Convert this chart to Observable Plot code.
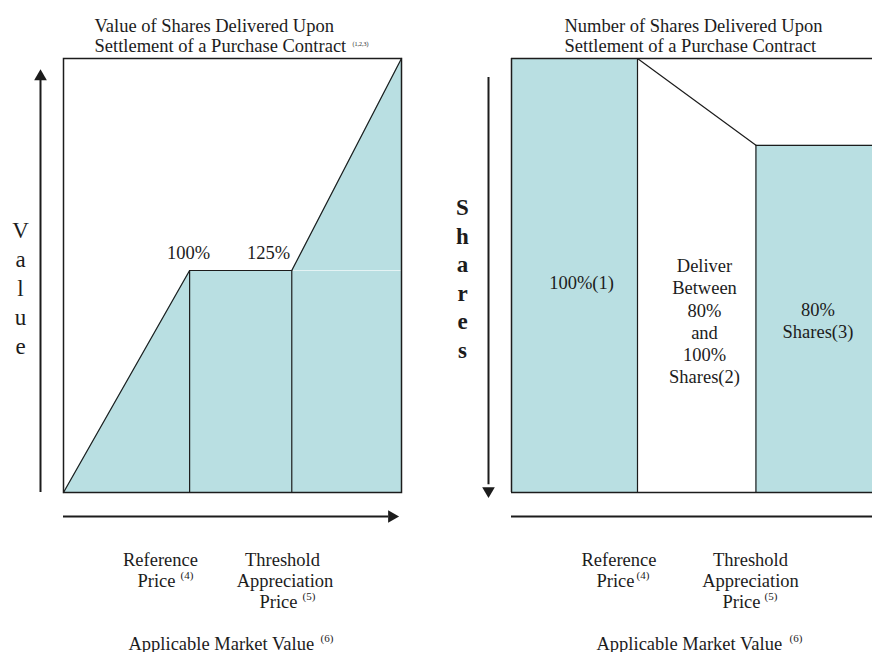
<!DOCTYPE html>
<html>
<head>
<meta charset="utf-8">
<script src="https://cdn.jsdelivr.net/npm/d3@7"></script>
<script src="https://cdn.jsdelivr.net/npm/@observablehq/plot@0.6"></script>
<style>
  html, body { margin: 0; padding: 0; background: #fff; }
  #page { position: relative; width: 872px; height: 652px; overflow: hidden; background: #fff; }
  #left, #right { position: absolute; top: 0; }
  #left { left: 0; width: 436px; }
  #right { left: 436px; width: 463px; }
  #page svg { max-width: none !important; display: block; }
</style>
</head>
<body>
<div id="page"><div id="left"></div><div id="right"></div></div>
<script>
// ---- Data (schematic; Reference Price = 100 on the market-value axis) ----
// Left panel: value of shares delivered vs. applicable market value
const valueMarketX = [0, 100, 181, 268];      // start, reference price, threshold appreciation price, end
const valuePct     = [0, 100, 100, 195.5];    // value of shares delivered (% of reference)
// Right panel: number of shares delivered vs. applicable market value
const sharesMarketX = [0, 100, 194, 300];
const sharesPct     = [100, 100, 80, 80];     // shares delivered (% of maximum)
// Text
const leftTitle  = ["Value of Shares Delivered Upon", "Settlement of a Purchase Contract"];
const rightTitle = ["Number of Shares Delivered Upon", "Settlement of a Purchase Contract"];
const leftPctLabels = ["100%", "125%"];
const regionLabels = ["100%(1)", "Deliver\nBetween\n80%\nand\n100%\nShares(2)", "80%\nShares(3)"];

const TEAL = "#b9dfe2";
const INK = "#1c1c1c";
const FONT = "Liberation Serif, Times New Roman, serif";

const valueCurve = valueMarketX.map((x, i) => ({x, v: valuePct[i]}));
const sharesCurve = sharesMarketX.map((x, i) => ({x, s: sharesPct[i]}));
const sharesBars = [
  {x1: sharesMarketX[0], x2: sharesMarketX[1], s: sharesPct[0]},
  {x1: sharesMarketX[2], x2: sharesMarketX[3], s: sharesPct[3]}
];

// text helper placed against the plot frame (baseline-based)
function txt(ml, mt, s, px, base, fs, anchor = "start", extra = {}) {
  return Plot.text([s], {
    frameAnchor: "top-left", dx: px - ml, dy: base - mt - 0.71 * fs,
    lineAnchor: "top", textAnchor: anchor, fontSize: fs, fill: INK,
    fontFamily: FONT, ...extra
  });
}

// ---------------- Left panel ----------------
{
  const ML = 63, MT = 58;
  const T = (...a) => txt(ML, MT, ...a);
  const chart = Plot.plot({
    width: 436, height: 652,
    marginLeft: ML, marginRight: 35, marginTop: MT, marginBottom: 160,
    x: {domain: [0, valueMarketX[3]], axis: null},
    y: {domain: [0, valuePct[3]], axis: null},
    style: {fontFamily: FONT, background: "transparent", overflow: "visible", maxWidth: "none"},
    marks: [
      Plot.areaY(valueCurve, {x: "x", y: "v", fill: TEAL}),
      Plot.ruleY([valuePct[1]], {x1: valueMarketX[2], x2: valueMarketX[3], stroke: "#e4f3f4", strokeWidth: 1}),
      Plot.ruleX([valueMarketX[1], valueMarketX[2]], {y1: 0, y2: valuePct[1], stroke: INK, strokeWidth: 1.2}),
      Plot.line(valueCurve, {x: "x", y: "v", stroke: INK, strokeWidth: 1.2}),
      Plot.frame({stroke: INK, strokeWidth: 1.5}),
      // axis arrows
      Plot.ruleX([0], {dx: -23, y1: 0, y2: 186, stroke: INK, strokeWidth: 2}),
      Plot.dot([0], {x: d => d, y: 187.4, dx: -23, symbol: "triangle", r: 4.7, fill: INK, stroke: null}),
      Plot.ruleY([-10.81], {x1: 0, x2: 257.7, stroke: INK, strokeWidth: 2}),
      Plot.dot([260.3], {x: d => d, y: -10.81, symbol: "triangle", rotate: 90, r: 4.7, fill: INK, stroke: null}),
      // titles
      T(leftTitle.join("\n"), 94, 30, 18.5, "start", {lineHeight: 20 / 18.5}),
      T("(1,2,3)", 352, 45, 6),
      // y label
      T("V\na\nl\nu\ne", 20, 233, 23, "middle", {lineHeight: 29 / 23}),
      // percent labels
      T(leftPctLabels[0], 188, 258.5, 18.5, "middle"),
      T(leftPctLabels[1], 268, 258.5, 18.5, "middle"),
      // bottom labels
      T("Reference", 160, 565, 18.5, "middle"),
      T("Price", 137, 586, 18.5),
      T("(4)", 180, 578, 11),
      T("Threshold", 282, 565, 18.5, "middle"),
      T("Appreciation", 284.5, 586, 18.5, "middle"),
      T("Price", 259, 607, 18.5),
      T("(5)", 302, 599, 11),
      T("Applicable Market Value", 128, 649, 18.5),
      T("(6)", 320, 641, 11)
    ]
  });
  document.getElementById("left").append(chart);
}

// ---------------- Right panel ----------------
{
  const OX = 436;
  const ML = 75, MT = 58;
  const T = (s, px, ...a) => txt(ML, MT, s, px - OX, ...a);
  const chart = Plot.plot({
    width: 463, height: 652,
    marginLeft: ML, marginRight: 10, marginTop: MT, marginBottom: 160,
    x: {domain: [0, sharesMarketX[3]], axis: null},
    y: {domain: [0, sharesPct[0]], axis: null},
    style: {fontFamily: FONT, background: "transparent", overflow: "visible", maxWidth: "none"},
    marks: [
      Plot.rectY(sharesBars, {x1: "x1", x2: "x2", y1: 0, y2: "s", fill: TEAL}),
      Plot.ruleX([sharesMarketX[1]], {y1: 0, y2: sharesPct[1], stroke: INK, strokeWidth: 1.2}),
      Plot.ruleX([sharesMarketX[2]], {y1: 0, y2: sharesPct[2], stroke: INK, strokeWidth: 1.2}),
      Plot.line(sharesCurve, {x: "x", y: "s", stroke: INK, strokeWidth: 1.2}),
      Plot.ruleY([0, sharesPct[0]], {stroke: INK, strokeWidth: 1.5}),
      Plot.ruleX([0], {stroke: INK, strokeWidth: 1.5}),
      // axis arrows
      Plot.ruleX([0], {dx: -23, y1: 1.8, y2: 95.6, stroke: INK, strokeWidth: 2}),
      Plot.dot([0], {x: d => d, y: 0.39, dx: -23, symbol: "triangle", rotate: 180, r: 4.7, fill: INK, stroke: null}),
      Plot.ruleY([-5.53], {x1: 0, x2: sharesMarketX[3], stroke: INK, strokeWidth: 2}),
      // titles
      T(rightTitle.join("\n"), 564, 30, 18.5, "start", {lineHeight: 20 / 18.5}),
      // y label
      T("S\nh\na\nr\ne\ns", 462, 211, 23, "middle", {lineHeight: 28.5 / 23, fontWeight: "bold"}),
      // region labels
      T(regionLabels[0], 581, 288, 18.5, "middle"),
      T(regionLabels[1], 704, 269, 18.5, "middle", {lineHeight: 22.2 / 18.5}),
      T(regionLabels[2], 817.5, 313, 18.5, "middle", {lineHeight: 22 / 18.5}),
      // bottom labels
      T("Reference", 618.5, 565, 18.5, "middle"),
      T("Price", 596, 586, 18.5),
      T("(4)", 636, 578, 11),
      T("Threshold", 750, 565, 18.5, "middle"),
      T("Appreciation", 750, 586, 18.5, "middle"),
      T("Price", 722, 607, 18.5),
      T("(5)", 764, 599, 11),
      T("Applicable Market Value", 596, 649, 18.5),
      T("(6)", 789, 641, 11)
    ]
  });
  document.getElementById("right").append(chart);
}
</script>
</body>
</html>
